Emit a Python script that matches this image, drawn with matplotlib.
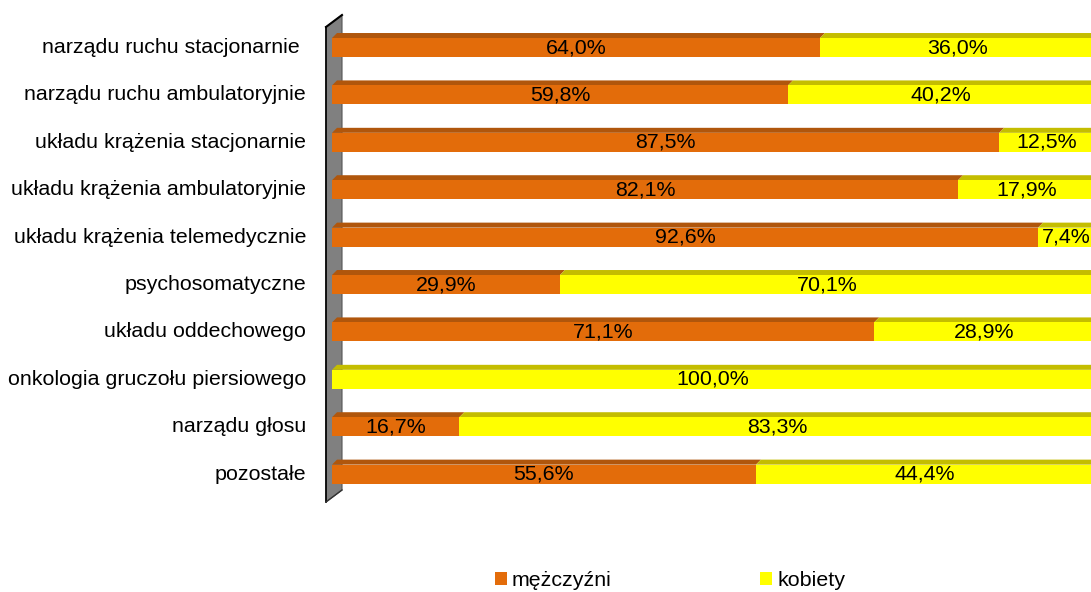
import matplotlib.pyplot as plt
import numpy as np
from matplotlib.patches import Polygon, Patch

plt.rcParams['font.family'] = ['Liberation Sans', 'DejaVu Sans']

categories = ['narządu ruchu stacjonarnie ', 'narządu ruchu ambulatoryjnie',
              'układu krążenia stacjonarnie', 'układu krążenia ambulatoryjnie',
              'układu krążenia telemedycznie', 'psychosomatyczne',
              'układu oddechowego', 'onkologia gruczołu piersiowego',
              'narządu głosu', 'pozostałe']
men = [64.0, 59.8, 87.5, 82.1, 92.6, 29.9, 71.1, 0.0, 16.7, 55.6]
women = [36.0, 40.2, 12.5, 17.9, 7.4, 70.1, 28.9, 100.0, 83.3, 44.4]
series_names = ['mężczyźni', 'kobiety']

front = ['#E36C0A', '#FFFF00']
top = ['#B0560C', '#C4BD00']
fs = 15.4

W, H = 1091, 592
fig = plt.figure(figsize=(W / 100, H / 100), dpi=100)
fig.patch.set_facecolor('white')

# plot area in pixels
x0_px, x100_px = 332, 1094.5
row0_px, pitch_px = 47.5, 47.4
ax = fig.add_axes([x0_px / W, 1 - (row0_px + pitch_px * 9.5) / H,
                   (x100_px - x0_px) / W, pitch_px * 10 / H])
ax.set_xlim(0, 100)
ax.set_ylim(9.5, -0.5)
ax.axis('off')
ax.set_zorder(2)
ax.patch.set_alpha(0)

# side wall (decoration, figure pixel coords), drawn behind the bars
wall = Polygon([(326, H - 27), (342, H - 15), (342, H - 490), (326, H - 502)],
               closed=True, facecolor='#808080', edgecolor='#555555', lw=0.8,
               transform=None, zorder=0)
fig.patches.append(wall)
for xs, ys, c, w in [([326, 326], [H - 27, H - 502], 'black', 1.2),
                     ([326, 342], [H - 27, H - 15], 'black', 1.5),
                     ([326, 342], [H - 502, H - 490], '#333333', 1.0)]:
    fig.add_artist(plt.Line2D(xs, ys, color=c, lw=w, transform=None, zorder=0.5))

bar_h = 0.4
px_per_pct = (x100_px - x0_px) / 100
depth_x = 5 / px_per_pct
depth_y = 5 / pitch_px

y = np.arange(len(categories))
men = np.array(men)
women = np.array(women)
for k, (vals, left) in enumerate([(men, np.zeros_like(men)), (women, men)]):
    ax.barh(y, vals, left=left, height=bar_h, color=front[k], zorder=3, clip_on=False)
    for i in range(len(y)):
        if vals[i] <= 0:
            continue
        yt = y[i] - bar_h / 2
        pts = [(left[i], yt), (left[i] + vals[i], yt),
               (left[i] + vals[i] + depth_x, yt - depth_y), (left[i] + depth_x, yt - depth_y)]
        ax.add_patch(Polygon(pts, closed=True, facecolor=top[k], edgecolor='none',
                             zorder=2, clip_on=False))
        ax.text(left[i] + vals[i] / 2, y[i], f'{vals[i]:.1f}%'.replace('.', ','),
                ha='center', va='center', fontsize=fs, color='black', zorder=5,
                clip_on=False)

for i, c in enumerate(categories):
    ax.text(-26 / px_per_pct, y[i], c, ha='right', va='center',
            fontsize=fs, clip_on=False)

handles = [Patch(facecolor=front[0]), Patch(facecolor=front[1])]
fig.legend(handles, series_names, loc='center', bbox_to_anchor=(670 / W, 1 - 581 / H),
           ncol=2, frameon=False, fontsize=fs, handlelength=0.55, handleheight=0.55,
           handletextpad=0.25, columnspacing=6.93)

fig.savefig('out.png', dpi=100)
